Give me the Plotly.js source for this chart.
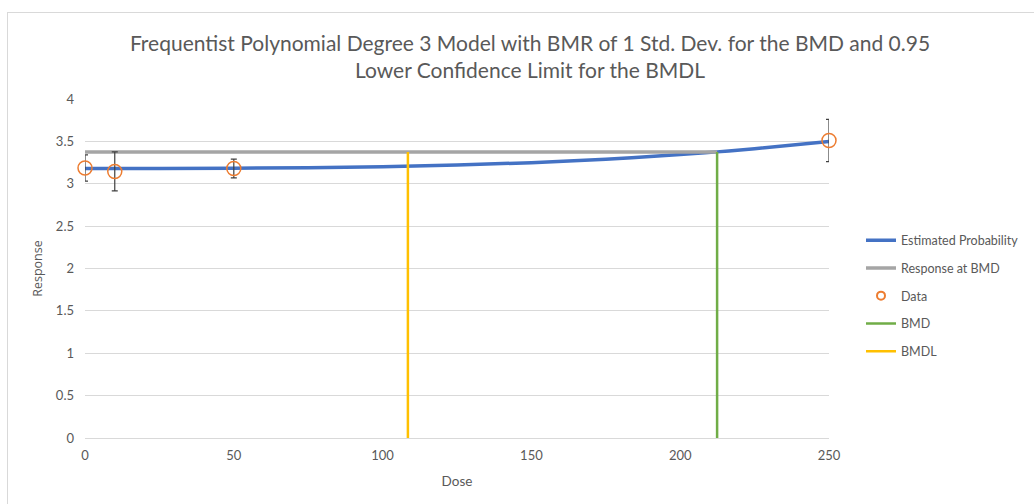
<!DOCTYPE html>
<html>
<head>
<meta charset="utf-8">
<script src="https://cdn.plot.ly/plotly-3.0.1.min.js"></script>
<style>
html,body{margin:0;padding:0;background:#fff;overflow:hidden;}
#frame{position:absolute;left:7px;top:12px;width:1100px;height:600px;border:1px solid #d9d9d9;box-sizing:border-box;}
#chart{position:absolute;left:0;top:0;width:1034px;height:504px;}
</style>
</head>
<body>
<div id="frame"></div>
<div id="chart"></div>
<script>
// Estimated model curve
const curveDose = [0, 25, 50, 75, 100, 125, 150, 175, 200, 212.4, 225, 250];
const curveResp = [3.18, 3.18, 3.183, 3.189, 3.2, 3.22, 3.249, 3.29, 3.344, 3.376, 3.413, 3.50];

// Observed data
const dataDose = [0, 10, 50, 250];
const dataMean = [3.186, 3.145, 3.18, 3.51];
const dataErr = [0.155, 0.23, 0.11, 0.25];

// Benchmark values
const bmd = 212.4;
const bmdl = 108.5;
const bmdResponse = 3.376;

const textColor = '#595959';
const font = 'Lato, "Open Sans", sans-serif';
const rotFont = '"Open Sans", "Noto Sans", sans-serif';

const traces = [
  {name: 'Estimated Probability', x: curveDose, y: curveResp, mode: 'lines',
   line: {color: '#4472C4', width: 3.5, shape: 'spline'}, legendgroup: 'a'},
  {name: 'Response at BMD', x: [0, bmd], y: [bmdResponse, bmdResponse], mode: 'lines',
   line: {color: '#A5A5A5', width: 3.5}, legendgroup: 'b'},
  {name: 'Data', x: dataDose, y: dataMean, mode: 'markers', cliponaxis: false, showlegend: false,
   marker: {symbol: 'circle-open', size: 14, color: '#ED7D31', line: {width: 1.5, color: '#ED7D31'}},
   error_y: {type: 'data', array: dataErr, visible: true, color: '#404040', thickness: 1.2, width: 3},
   legendgroup: 'c'},
  {name: 'Data', x: [null], y: [null], mode: 'markers', showlegend: true,
   marker: {symbol: 'circle-open', size: 8, color: '#ED7D31', line: {width: 2, color: '#ED7D31'}},
   legendgroup: 'c'},
  {name: 'BMD', x: [bmd, bmd], y: [0, bmdResponse], mode: 'lines',
   line: {color: '#70AD47', width: 2.5}, legendgroup: 'd'},
  {name: 'BMDL', x: [bmdl, bmdl], y: [0, bmdResponse], mode: 'lines',
   line: {color: '#FFC000', width: 2.5}, legendgroup: 'e'}
];

const layout = {
  width: 1034, height: 504,
  margin: {l: 85, r: 205, t: 99, b: 66},
  paper_bgcolor: 'rgba(0,0,0,0)', plot_bgcolor: 'rgba(0,0,0,0)',
  font: {family: font, color: textColor, size: 13},
  title: {
    text: 'Frequentist Polynomial Degree 3 Model with BMR of 1 Std. Dev. for the BMD and 0.95<br>Lower Confidence Limit for the BMDL',
    font: {size: 21, color: textColor, family: font},
    x: 530/1034, xanchor: 'center', xref: 'container',
    y: 1 - 51/504, yanchor: 'middle', yref: 'container'
  },
  xaxis: {
    range: [0, 250], tickvals: [0, 50, 100, 150, 200, 250],
    showgrid: false, zeroline: false, showline: false, ticks: '',
    ticklabelstandoff: 8,
    tickfont: {size: 13, color: textColor, family: font},
    title: {text: 'Dose', font: {size: 13.5, color: textColor, family: font}, standoff: 14}
  },
  yaxis: {
    range: [0, 4], dtick: 0.5, showgrid: true, gridcolor: '#d9d9d9', gridwidth: 1,
    zeroline: true, zerolinecolor: '#d9d9d9', zerolinewidth: 1,
    showline: false, ticks: '',
    ticklabelstandoff: 10,
    tickfont: {size: 13, color: textColor, family: font},
    title: {text: 'Response', font: {size: 12.5, color: textColor, family: rotFont}, standoff: 10}
  },
  showlegend: true,
  legend: {
    xref: 'container', yref: 'container',
    x: 861/1034, xanchor: 'left', y: 1 - 296/504, yanchor: 'middle',
    font: {size: 12.5, color: textColor, family: font}, tracegroupgap: 8.5,
    itemwidth: 30, bgcolor: 'rgba(0,0,0,0)'
  }
};

Plotly.newPlot('chart', traces, layout, {displayModeBar: false, staticPlot: true});
</script>
</body>
</html>
